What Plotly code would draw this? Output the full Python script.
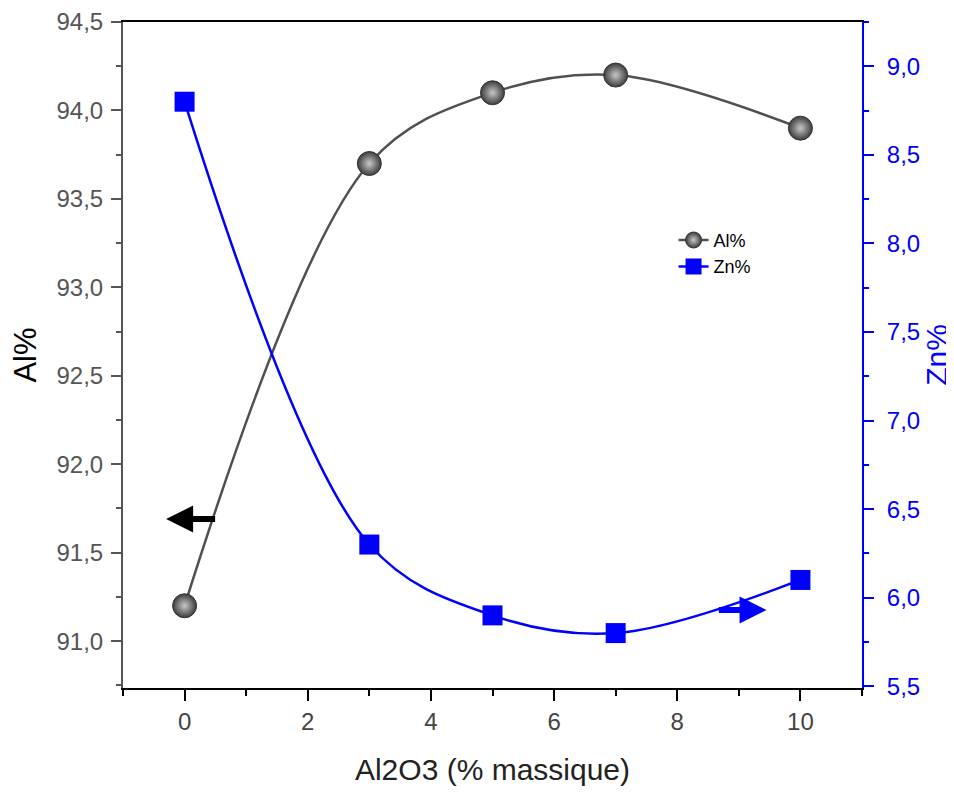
import plotly.graph_objects as go

x_vals = [0, 3, 5, 7, 10]
al_pct = [91.2, 93.7, 94.1, 94.2, 93.9]
zn_pct = [8.8, 6.3, 5.9, 5.8, 6.1]

fig = go.Figure()
fig.add_trace(go.Scatter(
    x=x_vals, y=al_pct, name="Al%", mode="lines+markers",
    line=dict(color="#505050", width=2.5, shape="spline", smoothing=1.0),
    marker=dict(symbol="circle", size=24, color="#3c3c3c",
                gradient=dict(type="radial", color="#c8c8c8"),
                line=dict(width=1, color="#333333")),
    yaxis="y"))
fig.add_trace(go.Scatter(
    x=x_vals, y=zn_pct, name="Zn%", mode="lines+markers",
    line=dict(color="#0000ff", width=2.5, shape="spline", smoothing=1.0),
    marker=dict(symbol="square", size=20, color="#0000ff", line=dict(width=0)),
    yaxis="y2"))

fig.add_annotation(x=-0.3, y=91.69, ax=0.52, ay=91.69, xref="x", yref="y",
                   axref="x", ayref="y", showarrow=True, arrowhead=2,
                   arrowsize=0.9, arrowwidth=6, arrowcolor="black", text="")
fig.add_annotation(x=9.45, y=5.93, ax=8.65, ay=5.93, xref="x", yref="y2",
                   axref="x", ayref="y2", showarrow=True, arrowhead=2,
                   arrowsize=0.9, arrowwidth=6, arrowcolor="#0000ff", text="")

font_family = "Arial, Liberation Sans, sans-serif"
fig.update_layout(
    width=946, height=786,
    margin=dict(l=115, r=92, t=14, b=106),
    paper_bgcolor="white", plot_bgcolor="white",
    separators=", ",
    font=dict(family=font_family, size=24),
    showlegend=True,
    legend=dict(x=0.745, y=0.70, xanchor="left", yanchor="top",
                bgcolor="rgba(0,0,0,0)", font=dict(size=18, color="black"),
                itemwidth=30, tracegroupgap=0),
    xaxis=dict(range=[-1, 11], dtick=2, tick0=0, showgrid=False, zeroline=False,
               showline=True, linecolor="black", linewidth=2, mirror=True,
               ticks="outside", ticklen=11, tickwidth=2, tickcolor="black",
               minor=dict(dtick=1, tick0=0, ticks="outside", ticklen=6,
                          tickwidth=2, tickcolor="black", showgrid=False),
               tickfont=dict(size=24, color="#444444"), automargin=False,
               title=dict(text="Al2O3 (% massique)", font=dict(size=30, color="#222222"),
                          standoff=25)),
    yaxis=dict(range=[90.735, 94.5], dtick=0.5, tick0=91, tickformat=".1f",
               showgrid=False, zeroline=False, showline=True, linecolor="#555555",
               linewidth=2, ticks="outside", ticklen=10, tickwidth=2,
               tickcolor="#555555", ticklabelstandoff=3, automargin=False,
               minor=dict(dtick=0.25, tick0=91, ticks="outside", ticklen=5,
                          tickwidth=2, tickcolor="#555555", showgrid=False),
               tickfont=dict(size=24, color="#555555"),
               title=dict(text="Al%", font=dict(size=31, color="black"), standoff=14)),
    yaxis2=dict(range=[5.49, 9.25], dtick=0.5, tick0=5.5, tickformat=".1f",
                overlaying="y", side="right", anchor="x",
                showgrid=False, zeroline=False, showline=True, linecolor="#0000ff",
                linewidth=2, ticks="outside", ticklen=10, tickwidth=2,
                tickcolor="#0000ff", ticklabelstandoff=8, automargin=False,
                minor=dict(dtick=0.25, tick0=5.5, ticks="outside", ticklen=5,
                           tickwidth=2, tickcolor="#0000ff", showgrid=False),
                tickfont=dict(size=24, color="#0000ff"),
                title=dict(text="Zn%", font=dict(size=30, color="#0000ff"), standoff=6)),
)

fig.write_html("out.html")
